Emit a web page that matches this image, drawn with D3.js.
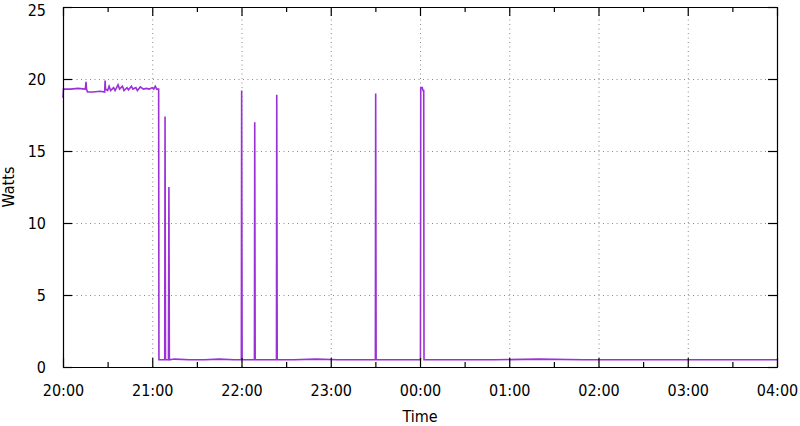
<!DOCTYPE html>
<meta charset="utf-8">
<script src="https://d3js.org/d3.v7.min.js"></script>
<style>
  body { margin: 0; background: #fff; }
  text { font-family: "DejaVu Sans Condensed", "DejaVu Sans", sans-serif; font-stretch: condensed; fill: #000; }
</style>
<div id="vis"></div>
<script>

// minutes after 20:00 and the reading in watts
var minutes = [0, 0.3, 5, 10, 15, 15.5, 15.8, 16.5, 20, 25, 28, 28.3, 28.6, 30, 31, 32, 34, 35, 37, 38,
  40, 41, 43, 44, 46, 47, 49, 50, 52, 54, 56, 58, 60, 61, 62, 63, 64.3, 64.5,
  66, 68.4, 68.6, 68.9, 70.9, 71.2, 71.5, 75, 85, 95, 105, 115,
  119.9, 120.1, 120.4, 125, 128.7, 128.9, 129.2, 135, 143.5, 143.7, 144.0,
  155, 170, 185, 200, 210.0, 210.2, 210.5, 220, 230, 240.3, 240.5, 241.5, 242, 242.5, 242.7,
  260, 290, 320, 350, 380, 410, 440, 470, 480]
var watts = [18.7, 19.3, 19.3, 19.35, 19.3, 19.8, 19.3, 19.1, 19.1, 19.15, 19.1, 19.9, 19.3, 19.2, 19.5, 19.2, 19.4, 19.2, 19.6, 19.3,
  19.5, 19.2, 19.4, 19.25, 19.5, 19.3, 19.4, 19.2, 19.45, 19.3, 19.35, 19.3, 19.4, 19.3, 19.5, 19.3, 19.3, 0.5,
  0.5, 0.5, 17.4, 0.5, 0.5, 12.5, 0.5, 0.55, 0.5, 0.5, 0.55, 0.5,
  0.5, 19.2, 0.5, 0.5, 0.5, 17.0, 0.5, 0.5, 0.5, 18.9, 0.5,
  0.5, 0.55, 0.5, 0.5, 0.5, 19.0, 0.5, 0.5, 0.5, 0.5, 19.4, 19.4, 19.2, 19.2, 0.5,
  0.5, 0.5, 0.55, 0.5, 0.5, 0.5, 0.5, 0.5, 0.5]

var yTicks = [0, 5, 10, 15, 20, 25]
var yLabel = "Watts"
var xLabel = "Time"

var width = 800
    height = 426
    margin = {top: 7, right: 23, bottom: 59, left: 63}

var start = new Date(2020, 0, 1, 20, 0)
var end = new Date(2020, 0, 2, 4, 0)

var data = minutes.map(function(m, i) {
  return {t: new Date(start.getTime() + m * 60000), v: watts[i]}
})

var x = d3.scaleTime()
  .domain([start, end])
  .range([margin.left, width - margin.right])

var y = d3.scaleLinear()
  .domain([0, 25])
  .range([height - margin.bottom, margin.top])

var svg = d3.select("#vis")
  .append("svg")
    .attr("width", width)
    .attr("height", height)

var hours = d3.timeHour.range(start, d3.timeHour.offset(end, 1))
var halfHours = d3.timeMinute.every(30).range(start, end).filter(function(d) { return d.getMinutes() == 30 })

// grid
svg.append("g").selectAll("line")
  .data(hours.slice(1, -1))
  .enter().append("line")
    .attr("x1", function(d) { return x(d) + 0.5 })
    .attr("x2", function(d) { return x(d) + 0.5 })
    .attr("y1", y(0))
    .attr("y2", y(25))
    .attr("stroke", "#888")
    .attr("stroke-dasharray", "1,3.5")

svg.append("g").selectAll("line")
  .data(yTicks.slice(1, -1))
  .enter().append("line")
    .attr("x1", x(start))
    .attr("x2", x(end))
    .attr("y1", function(d) { return y(d) + 0.5 })
    .attr("y2", function(d) { return y(d) + 0.5 })
    .attr("stroke", "#888")
    .attr("stroke-dasharray", "1,3.5")

// data line
svg.append("path")
  .datum(data)
  .attr("fill", "none")
  .attr("stroke", "#9a30d6")
  .attr("stroke-width", 1.6)
  .attr("d", d3.line()
    .x(function(d) { return x(d.t) })
    .y(function(d) { return y(d.v) }))

// axes, ticks pointing inward, mirrored
var fmt = d3.timeFormat("%H:%M")
svg.append("g")
  .attr("transform", "translate(0," + y(0) + ")")
  .call(d3.axisBottom(x).tickValues(hours).tickFormat(fmt).tickSizeInner(-9).tickSizeOuter(0).tickPadding(18))
svg.append("g")
  .attr("transform", "translate(0," + y(0) + ")")
  .call(d3.axisBottom(x).tickValues(halfHours).tickFormat("").tickSizeInner(-5).tickSizeOuter(0))
svg.append("g")
  .attr("transform", "translate(0," + y(25) + ")")
  .call(d3.axisTop(x).tickValues(hours).tickFormat("").tickSizeInner(-9).tickSizeOuter(0))
svg.append("g")
  .attr("transform", "translate(0," + y(25) + ")")
  .call(d3.axisTop(x).tickValues(halfHours).tickFormat("").tickSizeInner(-5).tickSizeOuter(0))
var yAxis = svg.append("g")
  .attr("transform", "translate(" + x(start) + ",0)")
  .call(d3.axisLeft(y).tickValues(yTicks).tickSizeInner(-9).tickSizeOuter(0).tickPadding(17))
svg.append("g")
  .attr("transform", "translate(" + x(end) + ",0)")
  .call(d3.axisRight(y).tickValues(yTicks).tickFormat("").tickSizeInner(-9).tickSizeOuter(0))

svg.selectAll(".tick text").style("font-size", "16px").attr("fill", "#000")
svg.selectAll(".domain, .tick line").attr("stroke", "#000").attr("stroke-width", 1.2)

// keep the top label inside the page
yAxis.selectAll(".tick text").filter(function(d) { return d == 25 }).attr("dy", "0.5em")

svg.append("text")
  .attr("transform", "translate(14," + (margin.top + y(0)) / 2 + ") rotate(-90)")
  .attr("text-anchor", "middle")
  .style("font-size", "16px")
  .text(yLabel)

svg.append("text")
  .attr("x", (x(start) + x(end)) / 2)
  .attr("y", 422)
  .attr("text-anchor", "middle")
  .style("font-size", "16px")
  .text(xLabel)

</script>
